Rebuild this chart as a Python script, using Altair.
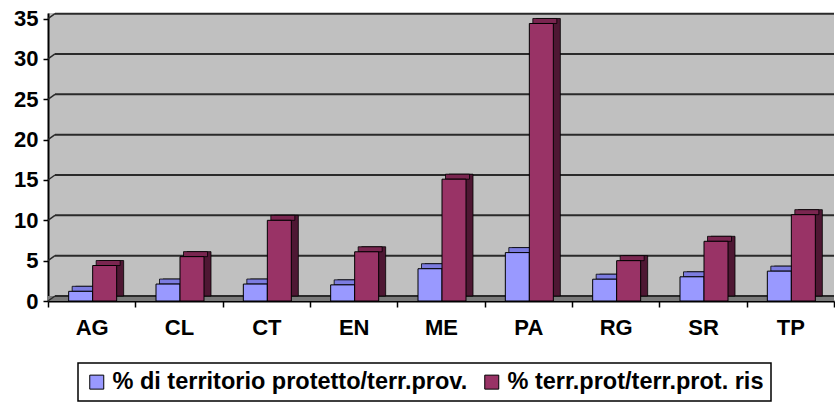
import altair as alt
import pandas as pd

categories = ["AG", "CL", "CT", "EN", "ME", "PA", "RG", "SR", "TP"]
series_names = ["% di territorio protetto/terr.prov.", "% terr.prot/terr.prot. ris"]
blue_values = [1.2, 2.1, 2.1, 2.0, 4.0, 6.0, 2.7, 3.0, 3.7]
red_values = [4.4, 5.5, 10.0, 6.1, 15.1, 34.4, 5.0, 7.4, 10.7]
grid_values = [0, 5, 10, 15, 20, 25, 30, 35]

front_colors = ["#9999FF", "#993366"]
top_colors = ["#7C7CE0", "#7A2650"]
side_colors = ["#5E5EB0", "#4E1733"]

W = 786
H = 288
DX, DY = 7, -5
BW = 24
FONT = "Liberation Sans"

df = pd.DataFrame({
    "cat": categories * 2,
    "series": [series_names[0]] * len(categories) + [series_names[1]] * len(categories),
    "value": blue_values + red_values,
})
grid_df = pd.DataFrame({"g": grid_values})

xenc = alt.X("cat:N", sort=categories,
             scale=alt.Scale(paddingInner=0, paddingOuter=0),
             axis=alt.Axis(title=None, labelAngle=0, labelFont=FONT, labelFontWeight="bold",
                           labelFontSize=22, labelColor="black", labelPadding=10,
                           tickBand="extent", tickSize=6, tickColor="black", tickWidth=1.5,
                           domainColor="black", domainWidth=2, grid=False))
yscale = alt.Scale(domain=[0, 35.7], nice=False)
yaxis = alt.Axis(title=None, values=grid_values, labelFont=FONT, labelFontWeight="bold",
                 labelFontSize=22, labelColor="black", labelPadding=5,
                 tickSize=5, tickColor="black", tickWidth=1.5,
                 domainColor="black", domainWidth=2, grid=False)

def yenc(field):
    return alt.Y(field, scale=yscale, axis=yaxis)

base_grid = alt.Chart(grid_df)
floor = alt.Chart(pd.DataFrame({"g": [0]})).mark_rect(
    color="#7A7A7A", yOffset=DY, y2Offset=0
).encode(x=alt.value(0), x2=alt.value(W), y=yenc("g:Q"), y2="g:Q")
grid = base_grid.mark_rule(color="#2A2A2A", strokeWidth=2, yOffset=DY, y2Offset=DY).encode(
    x=alt.value(DX), x2=alt.value(W), y=yenc("g:Q"))
wall_diag = base_grid.mark_rule(color="#2A2A2A", strokeWidth=1.5, y2Offset=DY).encode(
    x=alt.value(0), x2=alt.value(DX), y=yenc("g:Q"), y2="g:Q")

layers = [floor, grid, wall_diag]
offsets = [-11, 13]
for i, name in enumerate(series_names):
    sub = alt.Chart(df).transform_filter(alt.datum.series == name)
    off = offsets[i]
    side = sub.mark_bar(width=BW, xOffset=off + DX, yOffset=DY, y2Offset=DY,
                        color=side_colors[i], stroke="black", strokeWidth=0.8).encode(
        x=xenc, y=yenc("value:Q"))
    top = sub.mark_bar(width=BW, xOffset=off + DX / 2, yOffset=DY, y2Offset=0,
                       color=top_colors[i], stroke="black", strokeWidth=0.8).encode(
        x=xenc, y=yenc("value:Q"), y2="value:Q")
    front = sub.mark_bar(width=BW, xOffset=off, stroke="black", strokeWidth=1).encode(
        x=xenc, y=yenc("value:Q"),
        color=alt.Color("series:N", scale=alt.Scale(domain=series_names, range=front_colors),
                        legend=alt.Legend(title=None)))
    layers += [side, top, front]

chart = alt.layer(*layers).properties(
    width=W, height=H,
    background="white",
    autosize=alt.AutoSizeParams(type="none"),
    padding={"left": 48, "top": 13, "right": 1, "bottom": 105},
).configure_view(fill="#C0C0C0", stroke=None).configure_legend(
    orient="none", legendX=30, legendY=350, direction="horizontal",
    strokeColor="black", strokeWidth=1.5, fillColor="white", padding=7,
    symbolType="square", symbolSize=196, symbolStrokeColor="black", symbolStrokeWidth=1,
    labelFont=FONT, labelFontWeight="bold", labelFontSize=23.5, labelColor="black",
    labelOffset=4, columnPadding=12, labelLimit=0, symbolOpacity=1,
)

chart.save("out.html", embed_options={"renderer": "svg", "actions": False})
